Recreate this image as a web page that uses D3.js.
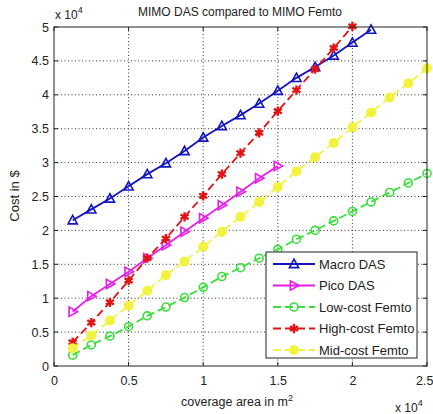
<!DOCTYPE html>
<html><head><meta charset="utf-8">
<script src="https://cdn.jsdelivr.net/npm/d3@7"></script>
<style>
body{margin:0;background:#fff}
svg{display:block}
text{font-family:"Liberation Sans",Arial,sans-serif;fill:#222}
</style>
</head><body>
<svg id="chart" width="433" height="414"></svg>
<script>
// Coverage area (x 10^4 m^2) and cost (x 10^4 $)
const coverage = [0.125,0.25,0.375,0.5,0.625,0.75,0.875,1.0,1.125,1.25,1.375,1.5,1.625,1.75,1.875,2.0,2.125,2.25,2.375,2.5];
const macroDas = [2.15,2.31,2.47,2.65,2.83,2.99,3.17,3.37,3.54,3.70,3.87,4.06,4.25,4.41,4.58,4.77,4.96];
const picoDas = [0.80,1.03,1.21,1.39,1.59,1.78,1.98,2.18,2.37,2.57,2.77,2.95];
const lowFemto = [0.16,0.31,0.44,0.58,0.74,0.87,1.01,1.16,1.32,1.45,1.59,1.72,1.87,2.00,2.14,2.28,2.42,2.56,2.70,2.84];
const highFemto = [0.35,0.64,0.94,1.26,1.59,1.88,2.20,2.51,2.83,3.14,3.44,3.76,4.07,4.38,4.69,5.01];
const midFemto = [0.26,0.45,0.67,0.89,1.11,1.34,1.54,1.76,1.98,2.20,2.42,2.64,2.87,3.08,3.29,3.52,3.74,3.96,4.17,4.39];
const xTicks = [0,0.5,1,1.5,2,2.5];
const yTicks = [0,0.5,1,1.5,2,2.5,3,3.5,4,4.5,5];
const seriesNames = ["Macro DAS","Pico DAS","Low-cost Femto","High-cost Femto","Mid-cost Femto"];

const series = [
  {name: seriesNames[0], values: macroDas, color: "#1414c0", dash: null, marker: "triUp"},
  {name: seriesNames[1], values: picoDas, color: "#e61ee6", dash: null, marker: "triRight"},
  {name: seriesNames[2], values: lowFemto, color: "#3ade3a", dash: "8,4", marker: "circle"},
  {name: seriesNames[3], values: highFemto, color: "#e01414", dash: "8,4", marker: "star"},
  {name: seriesNames[4], values: midFemto, color: "#f2f240", dash: "8,4", marker: "dot"}
];

const svg = d3.select("#chart");
const L = 54, R = 427, T = 27, B = 366;
const x = d3.scaleLinear().domain([0, 2.5]).range([L, R]);
const y = d3.scaleLinear().domain([0, 5]).range([B, T]);

// dotted grid
const grid = svg.append("g").attr("stroke", "#333").attr("stroke-width", 1).attr("stroke-dasharray", "1,2.5");
grid.selectAll("line.gx").data(xTicks.slice(1, -1)).join("line")
  .attr("x1", d => x(d)).attr("x2", d => x(d)).attr("y1", T).attr("y2", B);
grid.selectAll("line.gy").data(yTicks.slice(1, -1)).join("line")
  .attr("y1", d => y(d)).attr("y2", d => y(d)).attr("x1", L).attr("x2", R);

// axes
const xAxis = d3.axisBottom(x).tickValues(xTicks).tickSize(0).tickPadding(10).tickFormat(d3.format("~g"));
const yAxis = d3.axisLeft(y).tickValues(yTicks).tickSize(0).tickPadding(5).tickFormat(d3.format("~g"));
const gx = svg.append("g").attr("transform", `translate(0,${B})`).call(xAxis);
const gy = svg.append("g").attr("transform", `translate(${L},0)`).call(yAxis);
[gx, gy].forEach(g => {
  g.select(".domain").remove();
  g.selectAll("text").attr("font-size", 12.5).attr("fill", "#222").attr("font-family", "'Liberation Sans',Arial,sans-serif");
});
// keep the last x tick label inside the canvas
gx.selectAll(".tick").filter(d => d === 2.5).select("text").attr("text-anchor", "end").attr("x", 6);

// inward tick marks
const tk = svg.append("g").attr("stroke", "#222").attr("stroke-width", 1);
xTicks.forEach(d => {
  tk.append("line").attr("x1", x(d)).attr("x2", x(d)).attr("y1", B).attr("y2", B - 4);
  tk.append("line").attr("x1", x(d)).attr("x2", x(d)).attr("y1", T).attr("y2", T + 4);
});
yTicks.forEach(d => {
  tk.append("line").attr("x1", L).attr("x2", L + 4).attr("y1", y(d)).attr("y2", y(d));
  tk.append("line").attr("x1", R).attr("x2", R - 4).attr("y1", y(d)).attr("y2", y(d));
});

function markerPath(type) {
  switch (type) {
    case "triUp": return "M0,-4.8L4.6,3.6L-4.6,3.6Z";
    case "triRight": return "M4.8,0L-3.6,-4.6L-3.6,4.6Z";
    case "circle": return d3.symbol(d3.symbolCircle, 50)();
    case "dot": return d3.symbol(d3.symbolCircle, 56)();
    case "star": return d3.symbol(d3.symbolAsterisk, 60)();
  }
}
function styleMarker(sel, s) {
  sel.attr("d", markerPath(s.marker))
    .attr("stroke", s.color)
    .attr("stroke-width", s.marker === "star" ? 2.4 : 1.6)
    .attr("fill", s.marker === "dot" ? s.color : (s.marker === "star" ? s.color : "none"));
}

const line = d3.line().x(d => x(d[0])).y(d => y(d[1]));
const plot = svg.append("g");
series.forEach(s => {
  const pts = s.values.map((v, i) => [coverage[i], v]);
  plot.append("path").datum(pts).attr("d", line)
    .attr("fill", "none").attr("stroke", s.color).attr("stroke-width", 1.8)
    .attr("stroke-dasharray", s.dash);
  plot.selectAll(null).data(pts).join("path")
    .attr("transform", d => `translate(${x(d[0])},${y(d[1])})`)
    .call(styleMarker, s);
});

// axes box
svg.append("rect").attr("x", L).attr("y", T).attr("width", R - L).attr("height", B - T)
  .attr("fill", "none").attr("stroke", "#222").attr("stroke-width", 1);

// legend
const lg = svg.append("g");
lg.append("rect").attr("x", 266).attr("y", 252).attr("width", 151).attr("height", 106)
  .attr("fill", "#fff").attr("stroke", "#222").attr("stroke-width", 1);
series.forEach((s, i) => {
  const ly = 264 + i * 21.5;
  lg.append("line").attr("x1", 273).attr("x2", 315).attr("y1", ly).attr("y2", ly)
    .attr("stroke", s.color).attr("stroke-width", 1.8).attr("stroke-dasharray", s.dash);
  lg.append("path").attr("transform", `translate(294,${ly})`).call(styleMarker, s);
  lg.append("text").attr("x", 319).attr("y", ly + 4.5).attr("font-size", 13).text(s.name);
});

// title and labels
svg.append("text").attr("x", 240).attr("y", 16).attr("text-anchor", "middle")
  .attr("font-size", 12).text("MIMO DAS compared to MIMO Femto");
svg.append("text").attr("transform", "translate(19,196) rotate(-90)").attr("text-anchor", "middle")
  .attr("font-size", 13).text("Cost in $");
const xl = svg.append("text").attr("x", 237).attr("y", 406).attr("text-anchor", "middle").attr("font-size", 12.5);
xl.append("tspan").text("coverage area in m");
xl.append("tspan").attr("dy", -5).attr("font-size", 9).text("2");

function exponent(px, py) {
  const t = svg.append("text").attr("x", px).attr("y", py).attr("font-size", 12);
  t.append("tspan").text("x 10");
  t.append("tspan").attr("dy", -6).attr("font-size", 9).text("4");
}
exponent(55, 19);
exponent(395, 412);
</script>
</body></html>
